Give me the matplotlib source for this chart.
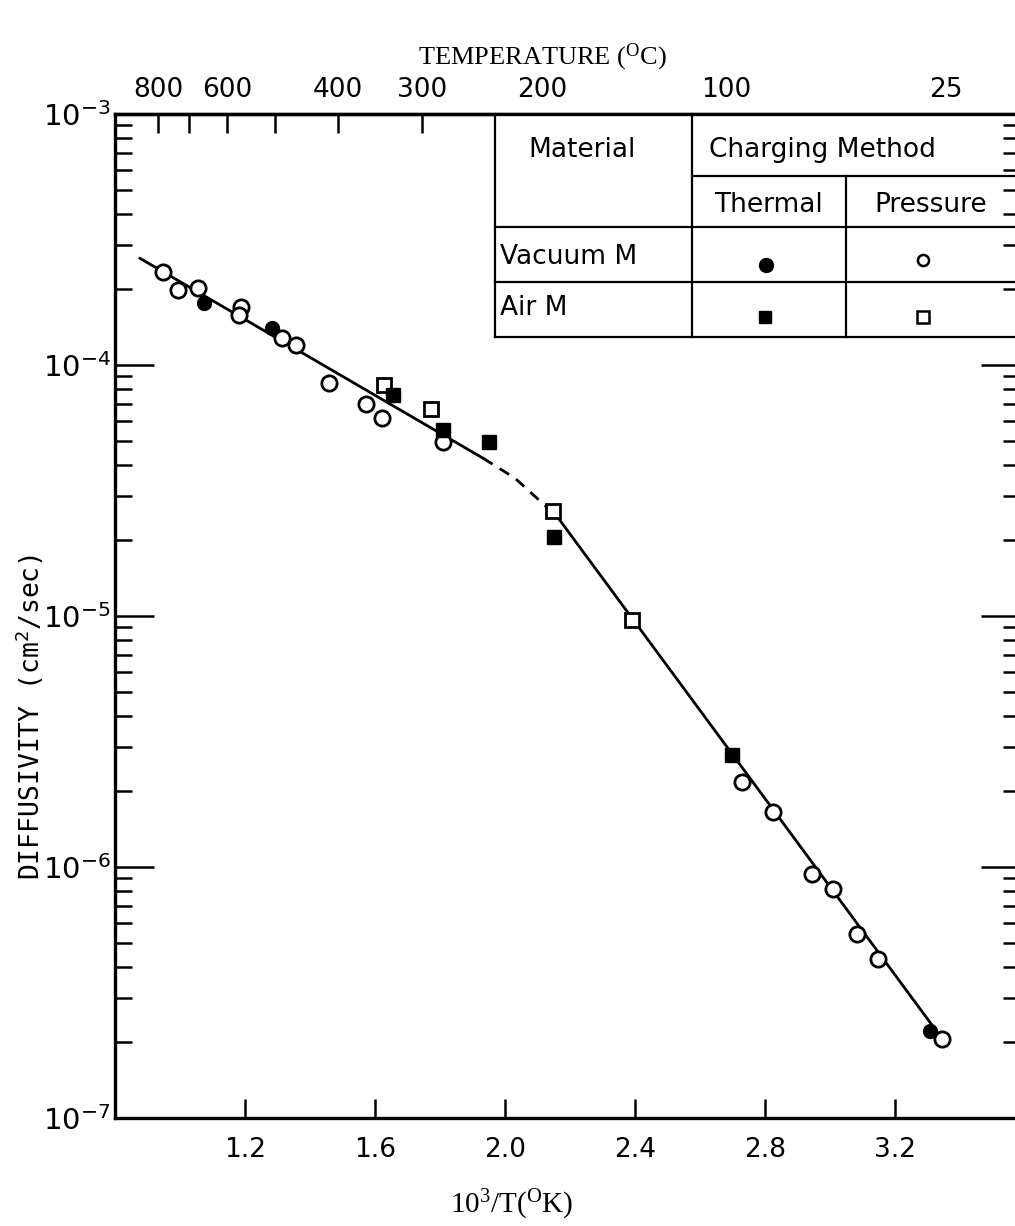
import numpy as np
import matplotlib
matplotlib.use('Agg')
import matplotlib.pyplot as plt
from matplotlib.ticker import FixedLocator, LogLocator, NullFormatter

plt.rcParams['mathtext.default'] = 'regular'
plt.rcParams['font.family'] = ['DejaVu Sans']

# vacuum melted, thermal charging (filled circles)
vac_thermal_x = [1.074, 1.282, 3.308]
vac_thermal_y = [1.77e-4, 1.40e-4, 2.22e-7]
# vacuum melted, pressure charging (open circles)
vac_pressure_x = [0.949, 0.995, 1.054, 1.187, 1.182, 1.313, 1.356, 1.459, 1.571, 1.621,
                  1.810, 2.731, 2.826, 2.944, 3.010, 3.084, 3.149, 3.344]
vac_pressure_y = [2.35e-4, 1.99e-4, 2.02e-4, 1.71e-4, 1.58e-4, 1.28e-4, 1.20e-4, 8.45e-5, 6.98e-5, 6.16e-5,
                  4.94e-5, 2.18e-6, 1.66e-6, 9.35e-7, 8.2e-7, 5.4e-7, 4.31e-7, 2.07e-7]
# air melted, thermal charging (filled squares)
air_thermal_x = [1.654, 1.810, 1.952, 2.152, 2.698]
air_thermal_y = [7.59e-5, 5.53e-5, 4.94e-5, 2.06e-5, 2.79e-6]
# air melted, pressure charging (open squares)
air_pressure_x = [1.629, 1.772, 2.149, 2.392]
air_pressure_y = [8.32e-5, 6.67e-5, 2.62e-5, 9.6e-6]

# fitted lines
high_x = [0.877, 1.933]
high_y = [2.66e-4, 4.25e-5]
trans_x = [1.933, 2.031, 2.132]
trans_y = [4.25e-5, 3.54e-5, 2.69e-5]
low_x = [2.148, 3.338]
low_y = [2.62e-5, 2.13e-7]

x_ticks = [1.2, 1.6, 2.0, 2.4, 2.8, 3.2]
x_ticklabels = ['1.2', '1.6', '2.0', '2.4', '2.8', '3.2']
y_ticks = [1e-7, 1e-6, 1e-5, 1e-4, 1e-3]
y_ticklabels = ['$10^{-7}$', '$10^{-6}$', '$10^{-5}$', '$10^{-4}$', '$10^{-3}$']
temp_ticks = [800, 700, 600, 500, 400, 300, 200, 100, 25]
temp_labels = ['800', '', '600', '', '400', '300', '200', '100', '25']

fig = plt.figure(figsize=(10.15, 12.26), dpi=100)
ax = fig.add_axes([115/1015, 1 - 1118/1226, 905/1015, 1004/1226])
ax.set_yscale('log')
ax.set_xlim(0.8, 3.585)
ax.set_ylim(1e-7, 1e-3)

lw = 2.0
ax.plot(high_x, high_y, color='black', lw=lw)
ax.plot(trans_x, trans_y, color='black', lw=lw, ls=(0, (4, 3)))
ax.plot(low_x, low_y, color='black', lw=lw)

ax.plot(vac_pressure_x, vac_pressure_y, 'o', ms=11, mfc='white', mec='black', mew=2.0, ls='none')
ax.plot(air_pressure_x, air_pressure_y, 's', ms=10, mfc='white', mec='black', mew=2.0, ls='none')
ax.plot(vac_thermal_x, vac_thermal_y, 'o', ms=10, mfc='black', mec='black', ls='none')
ax.plot(air_thermal_x, air_thermal_y, 's', ms=10, mfc='black', mec='black', ls='none')

for s in ax.spines.values():
    s.set_linewidth(2.4)

ax.xaxis.set_major_locator(FixedLocator(x_ticks))
ax.set_xticklabels(x_ticklabels)
ax.yaxis.set_major_locator(FixedLocator(y_ticks))
ax.set_yticklabels(y_ticklabels)
ax.yaxis.set_minor_locator(LogLocator(base=10, subs=np.arange(2, 10)))
ax.yaxis.set_minor_formatter(NullFormatter())
ax.tick_params(axis='x', which='major', direction='in', length=14, width=1.8, labelsize=19, pad=14, top=False)
ax.tick_params(axis='y', which='major', direction='in', length=28, width=1.8, labelsize=21, pad=3, right=True)
ax.tick_params(axis='y', which='minor', direction='in', length=12, width=1.8, right=True)

sec = ax.secondary_xaxis('top', functions=(lambda x: 1000.0 / np.asarray(x, float) - 273.0,
                                           lambda t: 1000.0 / (np.asarray(t, float) + 273.0)))
sec.xaxis.set_major_locator(FixedLocator(temp_ticks))
sec.set_xticklabels(temp_labels)
sec.tick_params(direction='in', length=14, width=1.8, labelsize=19, pad=8)
sec.spines['top'].set_linewidth(2.4)

# legend table
tk = dict(color='black', lw=1.6, transform=ax.transAxes, clip_on=False)
xl, xm, xt, xr = 0.4198, 0.6374, 0.8077, 1.0
yt, yh, y1, y2, yb = 1.0, 0.9382, 0.8875, 0.8327, 0.7779
ax.plot([xl, xl], [yt, yb], **tk)
ax.plot([xm, xm], [yt, yb], **tk)
ax.plot([xt, xt], [yh, yb], **tk)
ax.plot([xm, xr], [yh, yh], **tk)
ax.plot([xl, xr], [y1, y1], **tk)
ax.plot([xl, xr], [y2, y2], **tk)
ax.plot([xl, xr], [yb, yb], **tk)
ax.fill_between([xl, xr], yb, yt, color='white', transform=ax.transAxes, zorder=0.5)

tf = dict(fontsize=19, transform=ax.transAxes, va='center')
ax.text(0.5165, 0.9641, 'Material', ha='center', **tf)
ax.text(0.656, 0.9641, 'Charging Method', ha='left', **tf)
ax.text(0.722, 0.9094, 'Thermal', ha='center', **tf)
ax.text(0.901, 0.9094, 'Pressure', ha='center', **tf)
ax.text(0.4253, 0.8576, 'Vacuum M', ha='left', **tf)
ax.text(0.4253, 0.8068, 'Air M', ha='left', **tf)
ax.plot([0.7198], [0.8496], 'o', ms=10, mfc='black', mec='black', transform=ax.transAxes)
ax.plot([0.8923], [0.8546], 'o', ms=8, mfc='white', mec='black', mew=1.8, transform=ax.transAxes)
ax.plot([0.7187], [0.7978], 's', ms=8, mfc='black', mec='black', transform=ax.transAxes)
ax.plot([0.8923], [0.7978], 's', ms=8, mfc='white', mec='black', mew=1.8, transform=ax.transAxes)

fig.text(542/1015, 1 - 57/1226, 'TEMPERATURE ($^{O}$C)', ha='center', va='center',
         fontsize=19, family='Liberation Serif')
fig.text(512/1015, 1 - 1205/1226, '10$^{3}$/T($^{O}$K)', ha='center', va='center',
         fontsize=21, family='Liberation Serif')
fig.text(30/1015, 1 - 717/1226, 'DIFFUSIVITY (cm$^{2}$/sec)', ha='center', va='center',
         rotation=90, fontsize=19, family='DejaVu Sans Mono')

fig.savefig('out.png', dpi=100)
